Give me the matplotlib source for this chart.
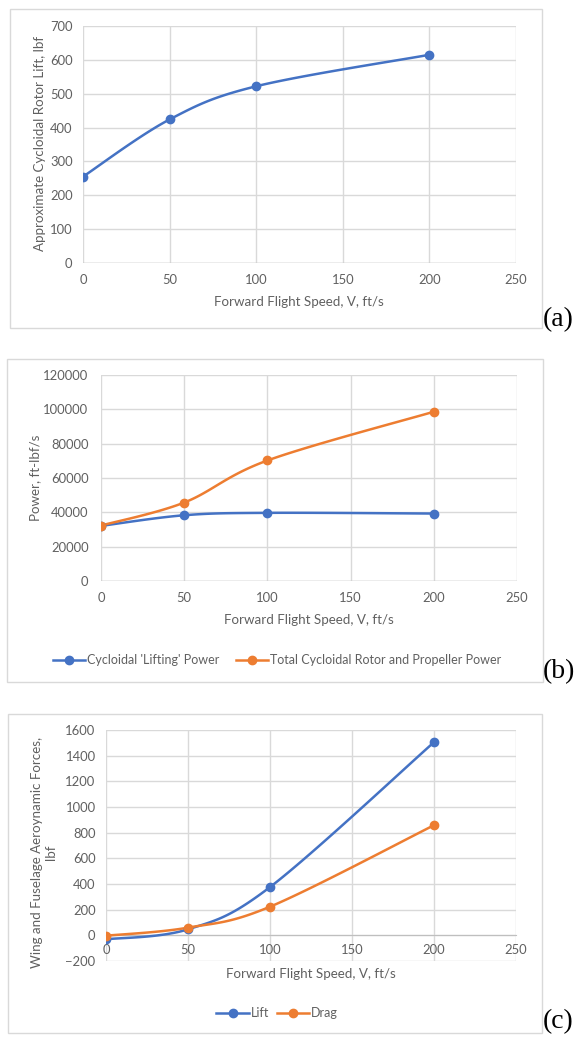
import numpy as np
import matplotlib.pyplot as plt
from matplotlib.patches import Rectangle
from matplotlib.lines import Line2D

W, H = 574, 1038

BLUE = '#4472C4'
ORANGE = '#ED7D31'
GRID = '#D9D9D9'
TXT = '#606060'

speed = [0, 50, 100, 200]

# (a) cycloidal rotor lift
rotor_lift = [255, 424, 522, 615]

# (b) power
lifting_power = [32100, 38300, 39700, 39300]
total_power = [32300, 45700, 70200, 98600]

# (c) wing and fuselage forces
wing_lift = [-31, 47, 376, 1505]
wing_drag = [-3, 60, 223, 858]

plt.rcParams['font.family'] = ['Lato', 'DejaVu Sans']

FS = 9.6
TICK_FS = 9.4
LW = 1.8
MS = 6.0


def px_axes(fig, left, top, right, bottom):
    return fig.add_axes([left / W, 1 - bottom / H, (right - left) / W, (bottom - top) / H])


def box(fig, left, top, right, bottom):
    fig.patches.append(Rectangle((left / W, 1 - bottom / H), (right - left) / W, (bottom - top) / H,
                                 transform=fig.transFigure, fill=False, edgecolor=GRID, lw=1.0))


def smooth(x, y, n=40):
    # excel style smoothed line (catmull-rom bezier)
    p = np.column_stack([x, y]).astype(float)
    ext = np.vstack([p[0], p, p[-1]])
    out = []
    t = np.linspace(0, 1, n)[:, None]
    for i in range(len(p) - 1):
        p0, p1, p2, p3 = ext[i], ext[i + 1], ext[i + 2], ext[i + 3]
        c1 = p1 + (p2 - p0) / 6
        c2 = p2 - (p3 - p1) / 6
        seg = (1 - t) ** 3 * p1 + 3 * (1 - t) ** 2 * t * c1 + 3 * (1 - t) * t ** 2 * c2 + t ** 3 * p2
        out.append(seg)
    out = np.vstack(out)
    return out[:, 0], out[:, 1]


def style(ax, ymin, ymax, ystep, ypad=7.5, xpad=8):
    ax.set_xlim(0, 250)
    ax.set_ylim(ymin, ymax)
    ax.set_xticks(np.arange(0, 251, 50))
    ax.set_yticks(np.arange(ymin, ymax + 1, ystep))
    ax.grid(True, color=GRID, lw=1.0)
    ax.set_axisbelow(True)
    for s in ax.spines.values():
        s.set_visible(False)
    ax.tick_params(length=0, labelsize=TICK_FS, labelcolor=TXT)
    ax.tick_params(axis='y', pad=ypad)
    ax.tick_params(axis='x', pad=xpad)


def series(ax, y, color):
    sx, sy = smooth(speed, y)
    ax.plot(sx, sy, color=color, lw=LW, zorder=3)
    ax.plot(speed, y, 'o', color=color, ms=MS, zorder=4)


def panel_label(fig, y, s):
    fig.text(543 / W, 1 - y / H, s, ha='left', va='center', fontsize=20, family='Liberation Serif')


fig = plt.figure(figsize=(W / 100, H / 100), dpi=100)

# ---- (a)
box(fig, 10, 9, 542, 328)
ax = px_axes(fig, 83, 26, 516, 263)
style(ax, 0, 700, 100)
ax.axhline(0, color='#BFBFBF', lw=1.0, zorder=2)
series(ax, rotor_lift, BLUE)
fig.text(299 / W, 1 - 302 / H, 'Forward Flight Speed, V, ft/s', ha='center', va='center', fontsize=FS, color=TXT)
fig.text(40 / W, 1 - 143 / H, 'Approximate Cycloidal Rotor Lift, lbf', ha='center', va='center',
         rotation=90, fontsize=FS, color=TXT)
panel_label(fig, 320, '(a)')

# ---- (b)
box(fig, 7, 359, 543, 682)
ax = px_axes(fig, 101, 375, 517, 581)
style(ax, 0, 120000, 20000, ypad=9)
ax.axhline(0, color='#BFBFBF', lw=1.0, zorder=2)
series(ax, lifting_power, BLUE)
series(ax, total_power, ORANGE)
fig.text(309 / W, 1 - 620 / H, 'Forward Flight Speed, V, ft/s', ha='center', va='center', fontsize=FS, color=TXT)
fig.text(35 / W, 1 - 478 / H, 'Power, ft-lbf/s', ha='center', va='center',
         rotation=90, fontsize=FS, color=TXT)
handles = [Line2D([], [], color=BLUE, lw=LW, marker='o', ms=MS),
           Line2D([], [], color=ORANGE, lw=LW, marker='o', ms=MS)]
fig.legend(handles, ["Cycloidal 'Lifting' Power", 'Total Cycloidal Rotor and Propeller Power'],
           loc='center', bbox_to_anchor=(277 / W, 1 - 660 / H), ncol=2, frameon=False,
           fontsize=9.0, labelcolor=TXT, handlelength=2.6, handletextpad=0.15, columnspacing=1.3)
panel_label(fig, 672, '(b)')

# ---- (c)
box(fig, 8, 714, 542, 1033)
ax = px_axes(fig, 106, 730, 516, 961)
style(ax, -200, 1600, 200, xpad=6)
ax.spines['bottom'].set_visible(True)
ax.spines['bottom'].set_position(('data', 0))
ax.spines['bottom'].set_color('#BFBFBF')
series(ax, wing_lift, BLUE)
series(ax, wing_drag, ORANGE)
fig.text(311 / W, 1 - 974 / H, 'Forward Flight Speed, V, ft/s', ha='center', va='center', fontsize=FS, color=TXT)
fig.text(44 / W, 1 - 852 / H, 'Wing and Fuselage Aeroynamic Forces,\nlbf', ha='center', va='center',
         rotation=90, fontsize=FS, color=TXT, linespacing=1.2)
fig.legend(handles, ['Lift', 'Drag'],
           loc='center', bbox_to_anchor=(277 / W, 1 - 1013 / H), ncol=2, frameon=False,
           fontsize=9.0, labelcolor=TXT, handlelength=2.6, handletextpad=0.15, columnspacing=0.6)
panel_label(fig, 1022, '(c)')

fig.savefig('out.png', dpi=100)
